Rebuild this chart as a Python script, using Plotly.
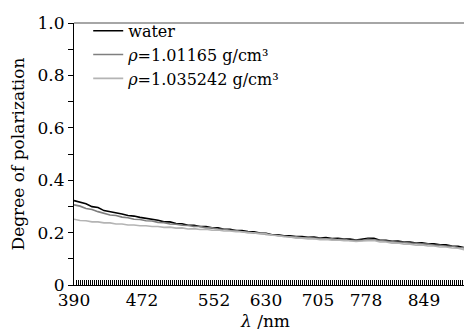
import plotly.graph_objects as go

# channel index of each sample (spectrometer pixel index, one comb tick per channel)
channels = list(range(0, 202, 3)) + [203]

water = [0.322, 0.315, 0.310, 0.299, 0.296, 0.284, 0.280, 0.274, 0.271, 0.265,
         0.263, 0.258, 0.255, 0.250, 0.247, 0.241, 0.241, 0.235, 0.234, 0.228,
         0.228, 0.223, 0.223, 0.218, 0.218, 0.213, 0.213, 0.208, 0.208, 0.204,
         0.203, 0.198, 0.197, 0.192, 0.192, 0.188, 0.188, 0.185, 0.185, 0.182,
         0.183, 0.179, 0.181, 0.177, 0.178, 0.175, 0.175, 0.172, 0.176, 0.178,
         0.178, 0.171, 0.171, 0.167, 0.168, 0.164, 0.164, 0.160, 0.161, 0.157,
         0.157, 0.153, 0.153, 0.149, 0.148, 0.143, 0.142, 0.138, 0.137]

rho1 = [0.306, 0.301, 0.292, 0.288, 0.280, 0.274, 0.267, 0.265, 0.259, 0.257,
        0.251, 0.250, 0.245, 0.244, 0.239, 0.238, 0.233, 0.232, 0.228, 0.227,
        0.223, 0.223, 0.218, 0.218, 0.214, 0.213, 0.209, 0.208, 0.203, 0.202,
        0.198, 0.198, 0.193, 0.192, 0.188, 0.187, 0.183, 0.184, 0.180, 0.181,
        0.178, 0.178, 0.175, 0.176, 0.173, 0.174, 0.170, 0.171, 0.170, 0.174,
        0.172, 0.170, 0.166, 0.166, 0.163, 0.163, 0.159, 0.159, 0.156, 0.156,
        0.152, 0.152, 0.148, 0.148, 0.143, 0.142, 0.137, 0.137, 0.134]

rho2 = [0.251, 0.246, 0.245, 0.241, 0.241, 0.237, 0.237, 0.233, 0.233, 0.229,
        0.229, 0.226, 0.226, 0.223, 0.223, 0.220, 0.221, 0.217, 0.218, 0.214,
        0.215, 0.212, 0.213, 0.209, 0.210, 0.206, 0.206, 0.203, 0.203, 0.199,
        0.199, 0.195, 0.195, 0.190, 0.189, 0.184, 0.183, 0.179, 0.179, 0.176,
        0.177, 0.173, 0.174, 0.171, 0.172, 0.169, 0.169, 0.166, 0.168, 0.169,
        0.170, 0.164, 0.164, 0.160, 0.160, 0.156, 0.156, 0.152, 0.153, 0.149,
        0.149, 0.145, 0.145, 0.141, 0.140, 0.135, 0.134, 0.131, 0.129]

tick_channels = [0, 34, 70, 96, 122, 146, 175]
tick_labels = ["390", "472", "552", "630", "705", "778", "849"]

y_tickvals = [0, 0.2, 0.4, 0.6, 0.8, 1.0]
y_ticktext = ["0", "0.2", "0.4", "0.6", "0.8", "1.0"]

series = [
    ("water", water, "#000000"),
    ("<i>ρ</i>=1.01165 g/cm³", rho1, "#7f7f7f"),
    ("<i>ρ</i>=1.035242 g/cm³", rho2, "#b4b4b4"),
]

FONT = "'DejaVu Serif', 'Liberation Serif', 'Times New Roman', serif"
FS = 17

fig = go.Figure()
for name, vals, color in series:
    fig.add_trace(go.Scatter(x=channels, y=vals, mode="lines", name=name,
                             line=dict(color=color, width=1.6)))

fig.update_layout(
    width=472, height=331,
    margin=dict(l=66, r=0, t=15, b=54),
    paper_bgcolor="white", plot_bgcolor="white",
    font=dict(family=FONT, size=FS, color="black"),
    showlegend=True,
    legend=dict(x=0.035, y=1.035, xanchor="left", yanchor="top",
                bgcolor="rgba(0,0,0,0)", font=dict(family=FONT, size=16),
                itemwidth=30, tracegroupgap=0),
    xaxis=dict(range=[0, 203], tickvals=tick_channels, ticktext=tick_labels,
               ticks="inside", ticklen=5, tickcolor="black",
               minor=dict(dtick=1, tick0=0, ticks="inside", ticklen=5,
                          tickcolor="black", tickwidth=1),
               showline=True, linecolor="black", linewidth=1,
               showgrid=False, zeroline=False, ticklabelstandoff=0,
               tickfont=dict(family=FONT, size=FS)),
    yaxis=dict(range=[0, 1.0], tickvals=y_tickvals, ticktext=y_ticktext,
               ticks="outside", ticklen=5, tickcolor="black",
               minor=dict(dtick=0.1, tick0=0, ticks="outside", ticklen=5,
                          tickcolor="black"),
               showline=True, linecolor="black", linewidth=1,
               showgrid=False, zeroline=False,
               tickfont=dict(family=FONT, size=FS),
               title=dict(text="Degree of polarization",
                          font=dict(family=FONT, size=FS), standoff=8)),
    shapes=[dict(type="line", xref="paper", yref="paper", x0=0, x1=1, y0=1, y1=1,
                 line=dict(color="#888888", width=1.5))],
    annotations=[dict(text="<i>λ</i> /nm", xref="paper", yref="paper",
                      x=0.47, y=-0.138, xanchor="center", yanchor="middle",
                      showarrow=False, font=dict(family=FONT, size=FS))],
)

fig.write_html("out.html")
